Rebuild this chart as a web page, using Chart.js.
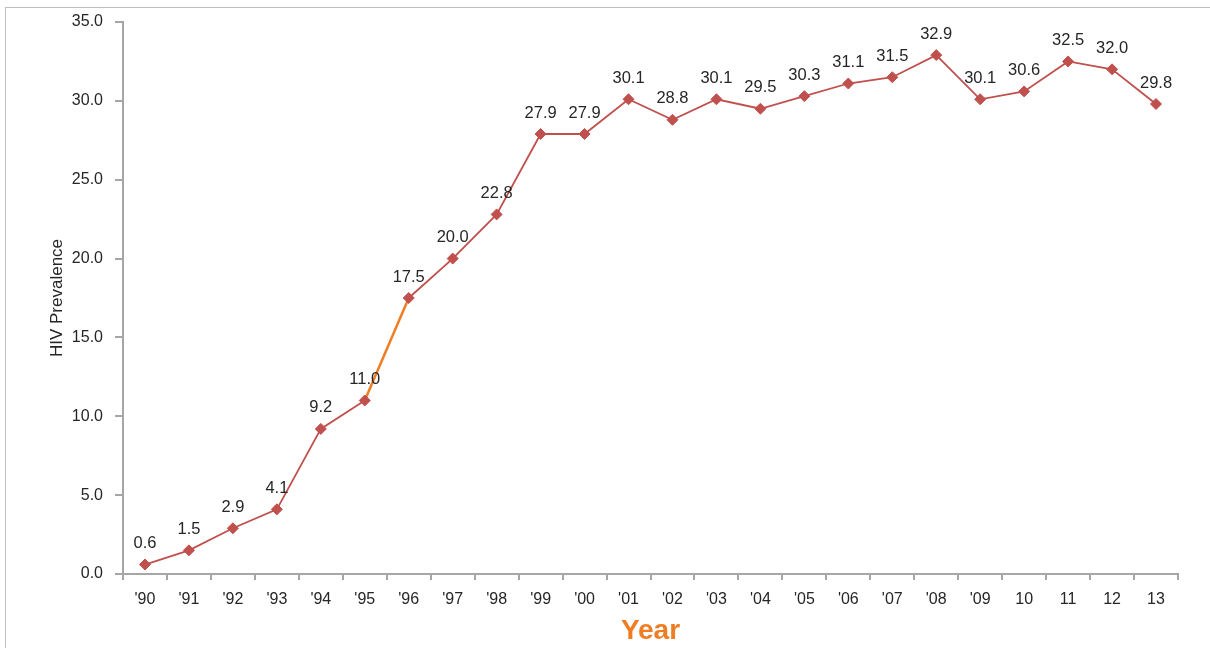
<!DOCTYPE html>
<html>
<head>
<meta charset="utf-8">
<script src="https://cdn.jsdelivr.net/npm/chart.js@4.4.0/dist/chart.umd.min.js"></script>
<style>
  html, body { margin: 0; padding: 0; background: #fff; overflow: hidden; }
  #wrap { position: relative; width: 1210px; height: 648px; }
  #frame { position: absolute; left: 5px; top: 7px; width: 1220px; height: 660px; border: 1px solid #bfbfbf; pointer-events: none; }
  canvas { position: absolute; left: 0; top: 0; }
</style>
</head>
<body>
<div id="wrap">
  <div id="frame"></div>
  <canvas id="chart-hiv" width="1210" height="648"></canvas>
</div>
<script>
const years = ["'90", "'91", "'92", "'93", "'94", "'95", "'96", "'97", "'98", "'99", "'00", "'01",
  "'02", "'03", "'04", "'05", "'06", "'07", "'08", "'09", '10', '11', '12', '13'];
const prevalence = [0.6, 1.5, 2.9, 4.1, 9.2, 11.0, 17.5, 20.0, 22.8, 27.9, 27.9, 30.1,
  28.8, 30.1, 29.5, 30.3, 31.1, 31.5, 32.9, 30.1, 30.6, 32.5, 32.0, 29.8];

const LINE = '#c0504d';
const ORANGE = '#f07d23';
const AXIS = '#a6a6a6';
const TEXT = '#262626';
const FONT = "'Liberation Sans', Arial, sans-serif";

// value labels above each point
const pointLabels = {
  id: 'pointLabels',
  afterDatasetsDraw(chart) {
    const { ctx } = chart;
    const meta = chart.getDatasetMeta(0);
    ctx.save();
    ctx.font = `16.5px ${FONT}`;
    ctx.fillStyle = TEXT;
    ctx.textAlign = 'center';
    ctx.textBaseline = 'middle';
    meta.data.forEach((pt, i) => {
      ctx.fillText(prevalence[i].toFixed(1), pt.x, pt.y - 21);
    });
    ctx.restore();
  },
};

new Chart(document.getElementById('chart-hiv'), {
  type: 'line',
  data: {
    labels: years,
    datasets: [{
      label: 'HIV Prevalence',
      data: prevalence,
      borderColor: LINE,
      borderWidth: 1.8,
      pointStyle: 'rectRot',
      pointRadius: 5.5,
      pointBackgroundColor: LINE,
      pointBorderColor: LINE,
      pointBorderWidth: 1,
      tension: 0,
      segment: {
        borderColor: ctx => ctx.p0DataIndex === 5 ? ORANGE : LINE,
        borderWidth: ctx => ctx.p0DataIndex === 5 ? 2.5 : 1.8,
      },
    }],
  },
  options: {
    responsive: false,
    animation: false,
    layout: { padding: { left: 0, top: 22, right: 32, bottom: 0 } },
    plugins: {
      legend: { display: false },
      tooltip: { enabled: false },
    },
    scales: {
      x: {
        offset: true,
        grid: {
          display: true,
          drawOnChartArea: false,
          drawTicks: true,
          tickLength: 6,
          color: AXIS,
          lineWidth: 2,
          offset: true,
        },
        border: { color: AXIS, width: 2 },
        ticks: { color: TEXT, font: { family: FONT, size: 16 }, padding: 10, maxRotation: 0, autoSkip: false },
        title: {
          display: true,
          text: 'Year',
          color: ORANGE,
          font: { family: FONT, size: 28, weight: 'bold' },
          padding: { top: 0, bottom: 0 },
        },
        afterFit: s => { s.height = 74; },
      },
      y: {
        min: 0,
        max: 35,
        grid: {
          display: true,
          drawOnChartArea: false,
          drawTicks: true,
          tickLength: 8,
          color: AXIS,
          lineWidth: 2,
        },
        border: { color: AXIS, width: 2 },
        ticks: {
          stepSize: 5,
          color: TEXT,
          font: { family: FONT, size: 16 },
          padding: 12,
          callback: v => v.toFixed(1),
        },
        title: {
          display: true,
          text: 'HIV Prevalence',
          color: TEXT,
          font: { family: FONT, size: 17 },
          padding: { top: 47, bottom: 0 },
        },
        afterFit: s => { s.width = 123; },
      },
    },
  },
  plugins: [pointLabels],
});
</script>
</body>
</html>
